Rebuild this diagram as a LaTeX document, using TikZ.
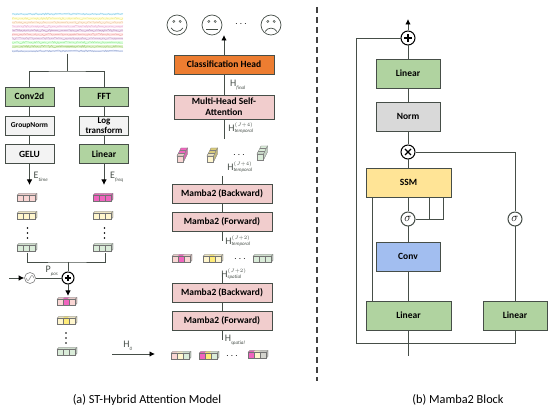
\documentclass[tikz,border=0pt]{standalone}
\usepackage{fontspec}
\setmainfont{Carlito}
\definecolor{boxline}{RGB}{70, 78, 72}
\definecolor{boxgreen}{RGB}{176, 211, 160}
\definecolor{boxpink}{RGB}{241, 205, 205}
\definecolor{boxorange}{RGB}{237, 125, 49}
\definecolor{boxgray}{RGB}{217, 217, 217}
\definecolor{boxpale}{RGB}{243, 243, 243}
\definecolor{boxyellow}{RGB}{255, 228, 150}
\definecolor{boxblue}{RGB}{162, 190, 240}
\definecolor{cellpink}{RGB}{250, 214, 212}
\definecolor{cellyellow}{RGB}{255, 246, 205}
\definecolor{cellgreen}{RGB}{218, 236, 217}
\definecolor{cellmag}{RGB}{240, 100, 190}
\definecolor{cellgold}{RGB}{255, 236, 120}
\definecolor{cellgray}{RGB}{212, 212, 206}

% three joined cells: centre x, centre y, three fill colours
\newcommand{\Cells}[5]{
    \begin{scope}[shift={(#1,#2)},line width=0.35,draw=gray!90!black]
        \fill[#3!85!gray] (-10,-2.5) -- (-8,-4.5) -- (-2.7,-4.5) -- (-4.7,-2.5) -- cycle;
        \fill[#4!85!gray] (-4.7,-2.5) -- (-2.7,-4.5) -- (2.6,-4.5) -- (0.6,-2.5) -- cycle;
        \fill[#5!85!gray] (0.6,-2.5) -- (2.6,-4.5) -- (10,-4.5) -- (8,-2.5) -- cycle;
        \fill[#5!65!gray] (8,-2.5) -- (10,-4.5) -- (10,1.5) -- (8,3.5) -- cycle;
        \draw (-10,-2.5) -- (-8,-4.5) -- (10,-4.5) -- (10,1.5) -- (8,3.5);
        \draw (8,-2.5) -- (10,-4.5);
        \draw[fill=#3] (-10,-2.5) rectangle (-4,3.5);
        \draw[fill=#4] (-4,-2.5) rectangle (2,3.5);
        \draw[fill=#5] (2,-2.5) rectangle (8,3.5);
    \end{scope}
}
% one turned stack seen from its end
\newcommand{\Stack}[4]{
    \begin{scope}[shift={(#1,#2)},line width=0.35,draw=gray]
        \draw[fill=#4] (-3,-1) -- (1,-9) -- (7.5,-9) -- (3.5,-1) -- cycle;
        \draw[fill=#4!75!gray] (3.5,-1) -- (7.5,-9) -- (7.5,-3) -- (3.5,5) -- cycle;
        \draw[fill=#3!85!gray] (-3,-1) -- (-1.7,-3.7) -- (4.8,-3.7) -- (3.5,-1) -- cycle;
        \draw (-1.7,-3.7) -- (4.8,-3.7) (-0.4,-6.4) -- (6.1,-6.4);
        \draw[fill=#3] (-3,-1) rectangle (3.5,5);
    \end{scope}
}
% letter with small indices
\newcommand{\Sym}[3]{$\mathrm{#1}^{\scriptscriptstyle #2}_{\scriptscriptstyle\mathit{#3}}$}
\tikzset{
    blockbox/.style={draw=boxline,line width=0.9,inner sep=0,align=center,font=\bfseries\fontsize{9.5}{11}\selectfont},
    wire/.style={draw=boxline,line width=0.9},
    arrowwire/.style={wire,-{Latex[length=5.5,width=5.5,black]}},
    ring/.style={draw=black,circle,line width=1,minimum size=14,inner sep=0,fill=white},
    smallring/.style={ring,draw=gray,minimum size=11,line width=0.6},
    facering/.style={draw=boxline,circle,line width=0.7,minimum size=20,inner sep=0},
    tinytext/.style={text=boxline,inner sep=0,font=\fontsize{10}{11}\selectfont},
    dotstext/.style={inner sep=0,font=\bfseries\fontsize{10}{10}\selectfont},
    captiontext/.style={inner sep=0,font=\fontsize{12.3}{15}\selectfont}
}
\usetikzlibrary{arrows.meta}
\begin{document}
\begin{tikzpicture}[x=1pt,y=-1pt]
    \useasboundingbox (0,0) rectangle (550,411);
    % eeg signal
    \pgfmathsetseed{7}
    \foreach \rowy/\rowcolor in {14/cyan!40!white,18.5/yellow!45!white,22.5/orange!30!white,26.5/magenta!25!white,30.5/violet!35!white,34.5/red!30!white,38.5/violet!30!white,42.5/green!35!white,46.5/yellow!40!green!60!white,51/cyan!45!blue!35!white}{
        \fill[\rowcolor!35!white] (12,\rowy-1.3) rectangle (123,\rowy+1.3);
        \draw[\rowcolor!85!gray,line width=0.4] plot[samples=110,domain=12:123] (\x,{\rowy+1*rand});
    }
    \node[minimum width=111,minimum height=43,inner sep=0] (signal) at (67.5,32) {};
    \coordinate (split) at (67.5,71);

    % left part
    \node[blockbox,fill=boxgreen,minimum width=49,minimum height=19] (conv2d) at (29.5,96.5) {Conv2d};
    \node[blockbox,fill=boxgreen,minimum width=49,minimum height=19] (fft) at (104,96.5) {FFT};
    \node[blockbox,fill=boxpale,minimum width=49,minimum height=19,font=\bfseries\fontsize{7.5}{9}\selectfont] (groupnorm) at (29.5,125.5) {GroupNorm};
    \node[blockbox,fill=boxpale,minimum width=49,minimum height=19,font=\bfseries\fontsize{9}{10.5}\selectfont] (logtransform) at (104,125.5) {Log\\transform};
    \node[blockbox,fill=boxpale,minimum width=49,minimum height=19] (gelu) at (29.5,154) {GELU};
    \node[blockbox,fill=boxgreen,minimum width=49,minimum height=19] (linear) at (104,154) {Linear};
    \coordinate (etime) at (29.5,185);
    \coordinate (efreq) at (104,185);
    \draw[wire] (signal.south) -- (split);
    \draw[wire] (conv2d.north) |- (split) -| (fft.north);
    \draw[wire] (conv2d) -- (groupnorm);
    \draw[wire] (groupnorm) -- (gelu);
    \draw[wire] (fft) -- (logtransform);
    \draw[wire] (logtransform) -- (linear);
    \draw[arrowwire] (gelu) -- (etime);
    \draw[arrowwire] (linear) -- (efreq);
    \node[tinytext] (etimetext) at (41,177) {\Sym{E}{}{time}};
    \node[tinytext] (efreqtext) at (117,177) {\Sym{E}{}{freq}};

    \Cells{27}{198}{cellpink}{cellpink}{cellpink}
    \Cells{27}{216}{cellyellow}{cellyellow}{cellyellow}
    \foreach \doty in {228,233,238}{ \fill (27.5,\doty) circle (0.9); }
    \Cells{27}{248}{cellgreen}{cellgreen}{cellgreen}
    \Cells{103}{198}{cellmag}{cellmag}{cellmag}
    \Cells{103}{216}{cellyellow}{cellyellow}{cellyellow}
    \foreach \doty in {228,233,238}{ \fill (104.5,\doty) circle (0.9); }
    \Cells{103}{248}{cellgreen}{cellgreen}{cellgreen}

    % position encoding
    \coordinate (leftfoot) at (27,253);
    \coordinate (rightfoot) at (105,253);
    \coordinate (merge) at (68,262);
    \coordinate (posin) at (9,278);
    \coordinate (mergeout) at (68,296);
    \node[ring,minimum size=12] (possum) at (68,278) {};
    \draw[line width=1.4] (possum.center)+(-3.2,0) -- +(3.2,0) (possum.center)+(0,-3.2) -- +(0,3.2);
    \node[smallring] (possine) at (30,278) {};
    \draw[gray,line width=0.5] plot[samples=25,domain=-4:4] ({30+\x},{278-2.4*sin(\x*45)});
    \draw[wire] (leftfoot) |- (merge) -| (rightfoot);
    \draw[wire] (merge) -- (possum);
    \draw[wire] (possine) -- (possum);
    \draw[arrowwire] (posin) -- (possine);
    \draw[arrowwire] (possum) -- (mergeout);
    \node[tinytext] (postext) at (52,271) {\Sym{P}{}{pos}};
    \Cells{67}{302}{cellpink}{cellmag}{cellpink}
    \Cells{67}{321}{cellyellow}{cellgold}{cellyellow}
    \foreach \doty in {333,338,343}{ \fill (66,\doty) circle (0.9); }
    \Cells{67}{352}{cellgreen}{cellgreen}{cellgreen}

    % stacked layers
    \coordinate (hzeroa) at (112,354);
    \coordinate (hzerob) at (155,354);
    \draw[arrowwire] (hzeroa) -- (hzerob);
    \node[tinytext] (hzerotext) at (128,346) {\Sym{H}{}{0}};
    \Cells{181}{356}{cellpink}{cellyellow}{cellgreen}
    \Cells{209}{356}{cellmag}{cellgold}{cellgreen}
    \node[dotstext] (dotsone) at (232,356) {$\cdots$};
    \Cells{258}{355}{cellmag}{cellyellow}{cellgray}

    \node[blockbox,fill=boxpink,minimum width=100,minimum height=19] (forwardone) at (222,320.5) {Mamba2 (Forward)};
    \node[blockbox,fill=boxpink,minimum width=100,minimum height=19] (backwardone) at (222,292.5) {Mamba2 (Backward)};
    \coordinate (spatialbelow) at (222,340);
    \coordinate (spatialabove) at (222,273);
    \draw[wire] (forwardone) -- (spatialbelow);
    \draw[wire] (backwardone) -- (forwardone);
    \draw[wire] (spatialabove) -- (backwardone);
    \node[tinytext] (hspatialtext) at (235,340) {\Sym{H}{}{spatial}};
    \node[tinytext] (hspatialtwo) at (234,274) {\Sym{H}{(J+2)}{spatial}};

    \Cells{182}{259}{cellpink}{cellmag}{cellpink}
    \Cells{213}{259}{cellyellow}{cellgold}{cellyellow}
    \node[dotstext] (dotstwo) at (240,259) {$\cdots$};
    \Cells{263}{259}{cellgreen}{cellgreen}{cellgreen}

    \node[blockbox,fill=boxpink,minimum width=100,minimum height=19] (forwardtwo) at (222,221.5) {Mamba2 (Forward)};
    \node[blockbox,fill=boxpink,minimum width=100,minimum height=19] (backwardtwo) at (222,194) {Mamba2 (Backward)};
    \coordinate (temporalbelow) at (222,241);
    \coordinate (temporalabove) at (222,176);
    \draw[wire] (forwardtwo) -- (temporalbelow);
    \draw[wire] (backwardtwo) -- (forwardtwo);
    \draw[wire] (temporalabove) -- (backwardtwo);
    \node[tinytext] (htemporaltwo) at (238,241) {\Sym{H}{(J+2)}{temporal}};
    \node[tinytext] (htemporalfour) at (240,167) {\Sym{H}{(J+4)}{temporal}};

    \Stack{180}{157}{cellpink}{cellmag}
    \Stack{210}{157}{cellyellow}{cellgold!70!gray}
    \node[dotstext] (dotsthree) at (239,155) {$\cdots$};
    \Stack{260}{155}{cellgreen}{cellgreen}

    \node[blockbox,fill=boxpink,minimum width=100,minimum height=24] (attention) at (224,107) {Multi-Head Self-\\Attention};
    \node[blockbox,fill=boxorange,minimum width=100,minimum height=19] (classhead) at (224,64.5) {Classification Head};
    \coordinate (attentionin) at (224,139);
    \coordinate (headout) at (224,35);
    \draw[wire] (attentionin) -- (attention);
    \draw[wire] (attention) -- (classhead);
    \draw[arrowwire] (classhead) -- (headout);
    \node[tinytext] (hfinaltext) at (238,85) {\Sym{H}{}{final}};
    \node[tinytext] (hinfour) at (241,128) {\Sym{H}{(J+4)}{temporal}};

    % faces
    \node[facering] (happy) at (177,25) {};
    \node[facering] (neutral) at (212,25) {};
    \node[facering] (sad) at (271,25) {};
    \foreach \facex in {177,212,271}{
        \draw[boxline,line width=0.5] (\facex-3.2,21.5) circle (1.1) (\facex+3.2,21.5) circle (1.1);
    }
    \draw[boxline,line width=0.7] (171,28) .. controls (174,32.5) and (180,32.5) .. (183,28);
    \draw[boxline,line width=0.7] (206,29.5) -- (218,29.5);
    \draw[boxline,line width=0.7] (265,31.5) .. controls (268,27) and (274,27) .. (277,31.5);
    \node[dotstext,font=\fontsize{10}{10}\selectfont] (facedots) at (241,24) {$\cdots$};

    % divider
    \draw[black!75,line width=1.5,dash pattern=on 6.5 off 3.5] (317,7) -- (317,381);

    % right part
    \node[ring] (topsum) at (408,38) {};
    \draw[line width=1.4] (topsum.center)+(-3.6,0) -- +(3.6,0) (topsum.center)+(0,-3.6) -- +(0,3.6);
    \node[blockbox,fill=boxgreen,minimum width=64,minimum height=29] (lineartop) at (408,73.5) {Linear};
    \node[blockbox,fill=boxgray,minimum width=64,minimum height=29] (norm) at (408,116.5) {Norm};
    \node[ring] (product) at (408,152) {};
    \draw[line width=1.4] (product.center)+(-3,-3) -- +(3,3) (product.center)+(-3,3) -- +(3,-3);
    \node[blockbox,fill=boxyellow,minimum width=85,minimum height=29] (ssm) at (408.5,182.5) {SSM};
    \node[ring,draw=boxline,font=\fontsize{13}{13}\selectfont] (sigmaleft) at (408,219) {$\sigma$};
    \node[ring,draw=boxline,font=\fontsize{13}{13}\selectfont] (sigmaright) at (515,219) {$\sigma$};
    \node[blockbox,fill=boxblue,minimum width=64,minimum height=29] (conv) at (408,256.5) {Conv};
    \node[blockbox,fill=boxgreen,minimum width=85,minimum height=29] (linearleft) at (408.5,315.5) {Linear};
    \node[blockbox,fill=boxgreen,minimum width=64,minimum height=29] (linearright) at (515,315.5) {Linear};

    \coordinate (topout) at (408,19);
    \coordinate (blockin) at (408,356);
    \coordinate (railleft) at (356,343);
    \coordinate (railright) at (515,343);
    \coordinate (gatea) at (429,197);
    \coordinate (gateb) at (443,197);
    \coordinate (skip) at (372,197);
    \coordinate (skipend) at (372,301);
    \draw[arrowwire] (topsum) -- (topout);
    \draw[wire] (lineartop) -- (topsum);
    \draw[wire] (norm) -- (lineartop);
    \draw[wire] (product) -- (norm);
    \draw[wire] (ssm.north -| product) -- (product);
    \draw[wire] (sigmaleft) -- (ssm.south -| sigmaleft);
    \draw[wire] (conv) -- (sigmaleft);
    \draw[wire] (linearleft.north -| conv) -- (conv);
    \draw[wire] (skipend) -- (skip);
    \draw[wire] (sigmaleft) -| (gatea);
    \draw[wire] (sigmaleft) -| (gateb);
    \draw[wire] (product) -| (sigmaright);
    \draw[wire] (linearright) -- (sigmaright);
    \draw[wire] (blockin) -- (linearleft.south -| blockin);
    \draw[wire] (topsum) -| (railleft) -- (railright) -- (linearright);
    \node[captiontext] (captiona) at (147,400) {(a) ST-Hybrid Attention Model};
    \node[captiontext] (captionb) at (458,400) {(b) Mamba2 Block};
\end{tikzpicture}
\end{document}
